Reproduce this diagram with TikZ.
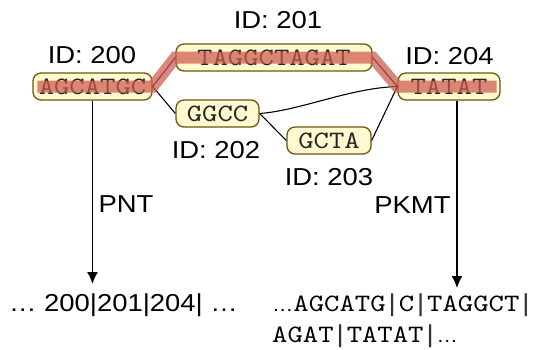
\documentclass[tikz,border=0pt]{standalone}
\usepackage{fontspec}
\setmainfont{Liberation Sans}[FakeStretch=1.12]
\newfontfamily\seqfont{lmmono10-regular.otf}[FakeStretch=1.17]
\usetikzlibrary{arrows.meta}
\definecolor{nodefill}{RGB}{255,249,208}
\definecolor{nodeedge}{RGB}{110,85,20}
\definecolor{hilite}{RGB}{205,90,80}
\newcommand\seqtxt[1]{{\seqfont\fontsize{25}{25}\selectfont #1}}
\newcommand\seqbar{\kern3pt{\fontsize{24.5}{24.5}\selectfont\color{black!80}|}\kern3pt}
\newcommand\seqdots{{\fontsize{19}{19}\selectfont…}}
\tikzset{
  seqbox/.style={draw=nodeedge, fill=nodefill, line width=1.3pt, rounded corners=8pt,
    minimum height=27pt, inner sep=0pt, font=\seqfont\fontsize{25}{25}\selectfont, text=black!85},
  idlabel/.style={font=\fontsize{24.5}{24.5}\selectfont, anchor=base, inner sep=0pt},
  link/.style={line width=1.1pt, black},
  flow/.style={line width=1.5pt, -{Latex[length=12pt,width=11pt]}},
  hl/.style={line width=12pt, hilite, opacity=0.72},
}
\begin{document}
\begin{tikzpicture}[x=1pt,y=-1pt]
\useasboundingbox[fill=white] (0,0) rectangle (540,349);
% nodes
\node[seqbox, minimum width=119pt] (n200) at (92.5,86.5) {AGCATGC};
\node[seqbox, minimum width=196pt] (n201) at (274,57.5) {TAGGCTAGAT};
\node[seqbox, minimum width=102pt] (n204) at (449,86.5) {TATAT};
\node[seqbox, minimum width=83pt] (n202) at (217.5,113.5) {GGCC};
\node[seqbox, minimum width=84pt] (n203) at (329,140.5) {GCTA};
% links
\draw[link] (n200.east) -- (n201.west);
\draw[link] (n201.east) -- (n204.west);
\draw[link] (n200.east) -- (n202.west);
\draw[link] (n202.east) -- (n203.west);
\draw[link] (n203.east) -- (n204.west);
\draw[link] (n202.east) .. controls +(41,-3) and +(-48,1.5) .. (n204.west);
% highlighted path
\draw[hl] ([xshift=5pt]n200.west) -- (n200.east) -- (n201.west) -- (n201.east) -- (n204.west) -- ([xshift=-4pt]n204.east);
% labels
\node[idlabel] (id200) at (92,63) {ID: 200};
\node[idlabel] (id201) at (278,28) {ID: 201};
\node[idlabel] (id204) at (449.5,64) {ID: 204};
\node[idlabel] (id202) at (216,158) {ID: 202};
\node[idlabel] (id203) at (329,185) {ID: 203};
\node[idlabel] (pnt) at (126,212) {PNT};
\node[idlabel] (pkmt) at (412.5,213) {PKMT};
% arrows
\coordinate (pntend) at (92.5,284);
\coordinate (pkmtend) at (457,288);
\draw[flow] (n200.south) -- (pntend);
\draw[flow] ([xshift=8pt]n204.south) -- (pkmtend);
% outputs
\node[idlabel] (pntout) at (123.5,311) {… 200|201|204| …};
\node[anchor=base west, inner sep=0pt] (pkmtout1) at (272,311) {\seqdots\seqtxt{AGCATG}\seqbar\seqtxt{C}\seqbar\seqtxt{TAGGCT}\seqbar};
\node[anchor=base west, inner sep=0pt] (pkmtout2) at (272,342) {\seqtxt{AGAT}\seqbar\seqtxt{TATAT}\seqbar\seqdots};
\end{tikzpicture}
\end{document}
